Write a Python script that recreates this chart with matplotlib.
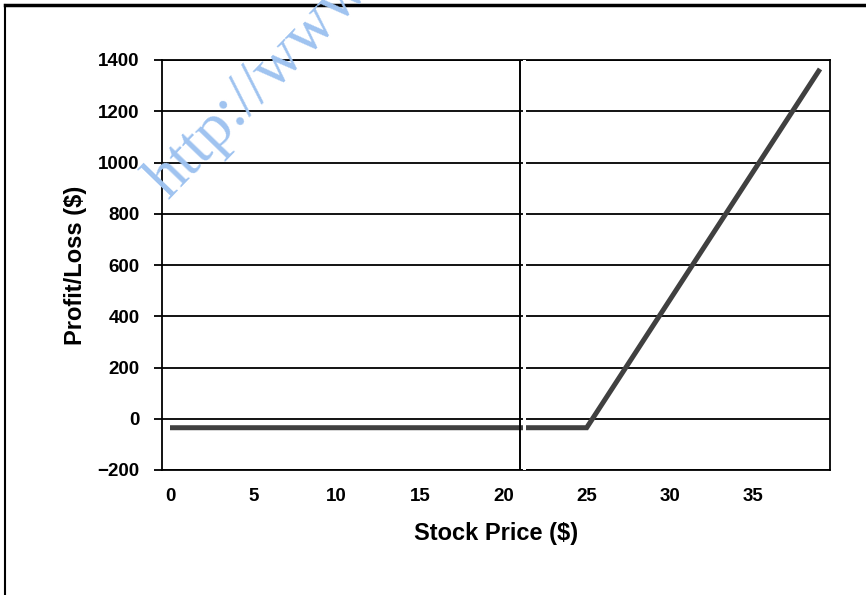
import matplotlib
matplotlib.use("Agg")
import matplotlib.pyplot as plt
from matplotlib.lines import Line2D

# Data: long call payoff (strike 25, premium ~0.35/share, 100 shares)
stock_price = [0, 25, 39]
profit_loss = [-35, -35, 1365]
x_ticks = [0, 5, 10, 15, 20, 25, 30, 35]
y_ticks = [-200, 0, 200, 400, 600, 800, 1000, 1200, 1400]
divider_x = 21.0

fig = plt.figure(figsize=(8.66, 5.95), dpi=100)
fig.patch.set_facecolor("white")
ax = fig.add_axes([162/866, 1-470/595, (830-162)/866, 410/595])

ax.set_xlim(-0.48, 39.6)
ax.set_ylim(-200, 1400)

for y in y_ticks:
    ax.axhline(y, color="black", lw=1.3, zorder=1)

ax.plot(stock_price, profit_loss, color="#404040", lw=3.6, solid_capstyle="butt",
        solid_joinstyle="miter", zorder=3)

# vertical divider with white gap
ax.axvline(divider_x, color="black", lw=1.4, zorder=4)
ax.axvline(divider_x + 0.21, color="white", lw=2.2, zorder=5)

for s in ax.spines.values():
    s.set_color("black")
    s.set_linewidth(1.3)

ax.set_xticks(x_ticks)
ax.set_yticks(y_ticks)
ax.set_xticklabels([str(v) for v in x_ticks])
ax.set_yticklabels([str(v).replace("-", "\u2212") for v in y_ticks])
ax.tick_params(axis="x", length=0, pad=13)
ax.tick_params(axis="y", length=6, width=1.3, direction="out", pad=10)
for lab in ax.get_xticklabels() + ax.get_yticklabels():
    lab.set_fontfamily("Liberation Sans")
    lab.set_fontweight("bold")
    lab.set_fontsize(13.5)

ax.set_xlabel("Stock Price ($)", fontfamily="Liberation Sans", fontweight="bold",
              fontsize=17, labelpad=12)
ax.set_ylabel("Profit/Loss ($)", fontfamily="Liberation Sans", fontweight="bold",
              fontsize=17, labelpad=8)

# figure frame (top and left visible)
fig.add_artist(Line2D([5/866, 1.0], [1-5/595, 1-5/595], transform=fig.transFigure,
                      color="black", lw=2.5))
fig.add_artist(Line2D([5/866, 5/866], [0, 1-5/595], transform=fig.transFigure,
                      color="black", lw=1.5))

# watermark
fig.text(168/866, 1-200/595, "http://www.", color="#9fc3f0", fontsize=46,
         fontfamily="Liberation Serif", rotation=46, ha="left", va="baseline",
         rotation_mode="anchor", zorder=10)

fig.savefig("out.png", dpi=100)
